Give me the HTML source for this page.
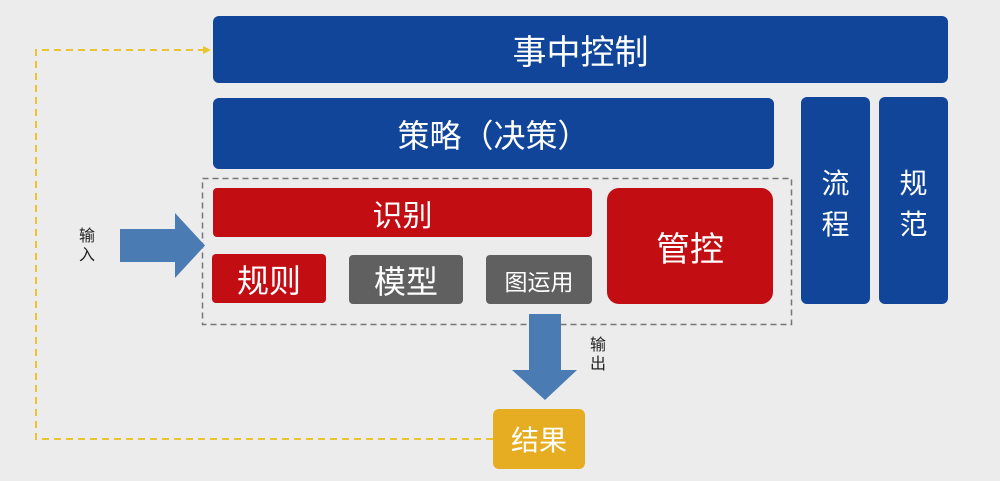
<!DOCTYPE html>
<html><head><meta charset="utf-8"><style>
html,body{margin:0;padding:0;}
body{width:1000px;height:481px;background:#ececec;position:relative;overflow:hidden;font-family:"Liberation Sans","Noto Sans CJK SC",sans-serif;}
.b{position:absolute;color:#fff;display:flex;align-items:center;justify-content:center;border-radius:6px;}
.blue{background:#10459a;}
.red{background:#c20d13;}
.gray{background:#606060;}
.lbl{position:absolute;font-size:16px;color:#222;line-height:19px;width:20px;text-align:center;}
</style></head><body>
<svg width="1000" height="481" style="position:absolute;left:0;top:0">
<polyline points="493,439 36,439 36,50 204,50" fill="none" stroke="#e8c431" stroke-width="2" stroke-dasharray="7,5"/>
<polygon points="211,50 203,46 203,54" fill="#e8c431"/>
<rect x="202.5" y="178.5" width="589" height="146" fill="none" stroke="#777" stroke-width="1.5" stroke-dasharray="6,4"/>
<polygon points="120,229 175,229 175,213 205,245.5 175,278 175,262 120,262" fill="#4a7bb2"/>
<polygon points="529,314 561,314 561,370 577,370 545,400 512,370 529,370" fill="#4a7bb2"/>
</svg>
<div class="b blue" style="left:213px;top:16px;width:735px;height:67px;font-size:34px;">事中控制</div>
<div class="b blue" style="left:213px;top:98px;width:561px;height:71px;font-size:32px;">策略（决策）</div>
<div class="b red" style="left:213px;top:188px;width:379px;height:49px;font-size:30px;border-radius:4px;">识别</div>
<div class="b red" style="left:212px;top:254px;width:114px;height:49px;font-size:32px;border-radius:4px;">规则</div>
<div class="b gray" style="left:349px;top:255px;width:114px;height:49px;font-size:32px;border-radius:4px;">模型</div>
<div class="b gray" style="left:486px;top:255px;width:106px;height:49px;font-size:23px;border-radius:4px;">图运用</div>
<div class="b red" style="left:607px;top:188px;width:166px;height:116px;font-size:34px;border-radius:12px;">管控</div>
<div class="b blue" style="left:801px;top:97px;width:69px;height:207px;font-size:28px;flex-direction:column;justify-content:flex-start;"><div style="margin-top:66px;line-height:41px;text-align:center;">流<br>程</div></div>
<div class="b blue" style="left:879px;top:97px;width:69px;height:207px;font-size:28px;flex-direction:column;justify-content:flex-start;"><div style="margin-top:66px;line-height:41px;text-align:center;">规<br>范</div></div>
<div class="b" style="left:493px;top:409px;width:92px;height:60px;background:#e7ad22;font-size:28px;">结果</div>
<div class="lbl" style="left:77px;top:227px;">输<br>入</div>
<div class="lbl" style="left:588px;top:336px;">输<br>出</div>
</body></html>
